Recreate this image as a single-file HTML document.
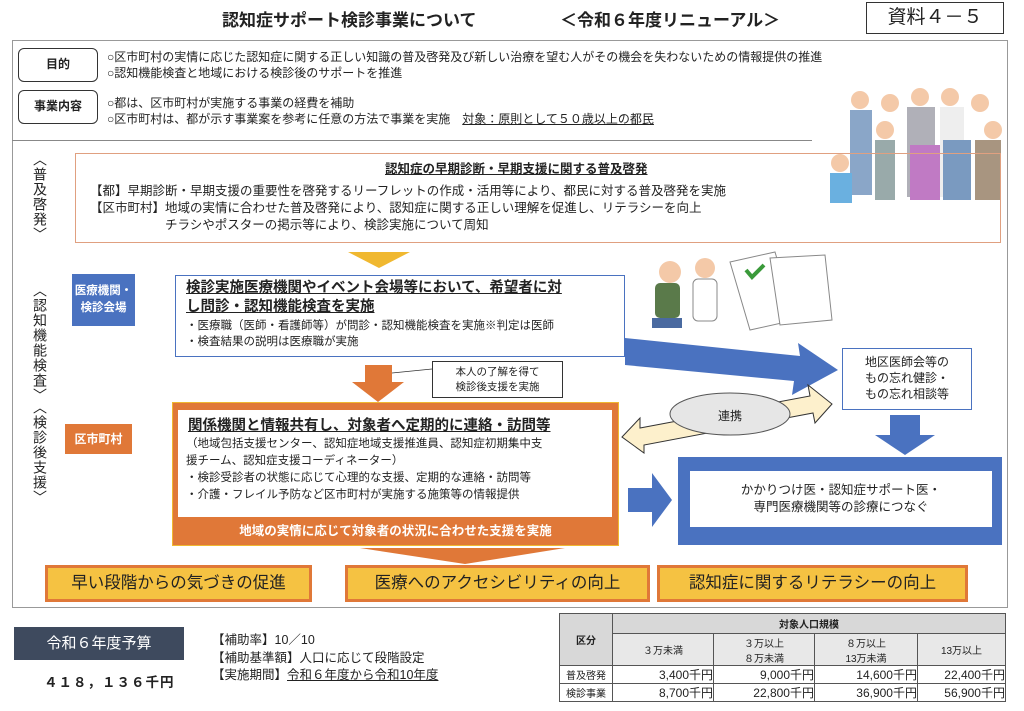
<!DOCTYPE html>
<html><head><meta charset="utf-8"><style>
*{margin:0;padding:0;box-sizing:border-box}
body{width:1024px;height:711px;background:#fff;position:relative;overflow:hidden;font-family:"Liberation Sans","Noto Sans CJK JP",sans-serif;color:#222}
.a{position:absolute}
.t{white-space:nowrap}
.vert{writing-mode:vertical-rl;font-size:14px;letter-spacing:1px}
table{border-collapse:collapse;font-size:10px}
td{border:1px solid #555;text-align:center;height:18px}
</style></head><body>
<div class="a t" style="left:222px;top:6px;font-size:17px;font-weight:bold">認知症サポート検診事業について</div>
<div class="a t" style="left:560px;top:6px;font-size:17px;font-weight:bold">＜令和６年度リニューアル＞</div>
<div class="a t" style="left:866px;top:2px;width:138px;height:32px;border:1.5px solid #333;font-size:19px;text-align:center;line-height:29px">資料４－５</div>

<div class="a" style="left:12px;top:40px;width:996px;height:568px;border:1px solid #999"></div>
<div class="a" style="left:12px;top:140px;width:800px;height:1px;background:#888"></div>

<div class="a t" style="left:18px;top:48px;width:80px;height:34px;border:1.5px solid #333;border-radius:6px;font-size:12px;font-weight:bold;text-align:center;line-height:31px">目的</div>
<div class="a t" style="left:18px;top:90px;width:80px;height:34px;border:1.5px solid #333;border-radius:6px;font-size:12px;font-weight:bold;text-align:center;line-height:31px">事業内容</div>
<div class="a t" style="left:107px;top:49px;font-size:12px;line-height:16px">○区市町村の実情に応じた認知症に関する正しい知識の普及啓発及び新しい治療を望む人がその機会を失わないための情報提供の推進<br>○認知機能検査と地域における検診後のサポートを推進</div>
<div class="a t" style="left:107px;top:95px;font-size:12px;line-height:16px">○都は、区市町村が実施する事業の経費を補助<br>○区市町村は、都が示す事業案を参考に任意の方法で事業を実施　<u>対象：原則として５０歳以上の都民</u></div>

<svg class="a" style="left:815px;top:85px" width="190" height="120">
<g fill="#f4c9a8"><circle cx="45" cy="15" r="9"/><circle cx="75" cy="18" r="9"/><circle cx="105" cy="12" r="9"/><circle cx="135" cy="12" r="9"/><circle cx="165" cy="18" r="9"/><circle cx="70" cy="45" r="9"/><circle cx="110" cy="50" r="9"/><circle cx="140" cy="45" r="9"/><circle cx="178" cy="45" r="9"/><circle cx="25" cy="78" r="9"/></g>
<rect x="35" y="25" width="22" height="85" fill="#8aa6c8"/><rect x="92" y="22" width="28" height="90" fill="#b0b0b8"/><rect x="125" y="22" width="24" height="90" fill="#eee"/>
<rect x="60" y="55" width="20" height="60" fill="#9aa"/><rect x="95" y="60" width="30" height="55" fill="#c07ac4"/><rect x="128" y="55" width="28" height="60" fill="#7a9ac0"/><rect x="160" y="55" width="26" height="60" fill="#a89580"/><rect x="15" y="88" width="22" height="30" fill="#6ab0e0"/>
</svg>

<div class="a vert" style="left:30px;top:152px">〈普及啓発〉</div>
<div class="a vert" style="left:30px;top:283px">〈認知機能検査〉</div>
<div class="a vert" style="left:30px;top:400px">〈検診後支援〉</div>

<div class="a" style="left:75px;top:153px;width:926px;height:90px;border:1px solid #e0a080"></div>
<div class="a t" style="left:385px;top:158px;font-size:12.5px;font-weight:bold;text-decoration:underline">認知症の早期診断・早期支援に関する普及啓発</div>
<div class="a t" style="left:90px;top:183px;font-size:12.5px;line-height:17px">【都】早期診断・早期支援の重要性を啓発するリーフレットの作成・活用等により、都民に対する普及啓発を実施<br>【区市町村】地域の実情に合わせた普及啓発により、認知症に関する正しい理解を促進し、リテラシーを向上<br>　　　　　　チラシやポスターの掲示等により、検診実施について周知</div>

<svg class="a" style="left:0;top:0" width="1024" height="711">
<polygon points="348,252 410,252 379,268" fill="#f0b830"/>
<polygon points="625,338 800,356 798,343 838,370 792,395 794,381 625,365" fill="#4a72c0"/>
<polygon points="365,365 392,365 392,382 404,382 378,402 352,382 365,382" fill="#e07838"/>
<line x1="392" y1="373" x2="432" y2="369" stroke="#333" stroke-width="0.8"/>
<polygon points="622,437 640,418 640,428 810,396 808,385 832,404 815,423 813,413 644,445 644,453" fill="#fdf0cc" stroke="#333" stroke-width="1"/>
<ellipse cx="730" cy="414" rx="60" ry="21" fill="#e6e6e6" stroke="#555"/>
<polygon points="890,415 920,415 920,435 935,435 905,455 875,435 890,435" fill="#4a72c0"/>
<polygon points="628,488 652,488 652,473 672,500 652,527 652,512 628,512" fill="#4a72c0"/>
<polygon points="360,548 565,548 465,564" fill="#e07838"/>
<circle cx="670" cy="272" r="11" fill="#f4c9a8"/><rect x="655" y="283" width="25" height="35" rx="5" fill="#5a7a4a"/><rect x="652" y="318" width="30" height="10" fill="#4a6aa0"/>
<circle cx="705" cy="268" r="10" fill="#f4c9a8"/><rect x="693" y="279" width="24" height="42" rx="5" fill="#fff" stroke="#888"/>
<polygon points="730,262 775,252 795,320 750,330" fill="#fff" stroke="#888"/>
<polygon points="770,258 825,255 832,320 780,325" fill="#fff" stroke="#888"/>
<path d="M746 270 l6 7 l12 -12" stroke="#3a9a3a" stroke-width="4" fill="none"/>
</svg>

<div class="a t" style="left:72px;top:274px;width:63px;height:52px;background:#4a72c0;color:#fff;font-size:11.5px;font-weight:bold;text-align:center;line-height:17px;padding-top:9px">医療機関・<br>検診会場</div>
<div class="a" style="left:175px;top:275px;width:450px;height:82px;border:1.5px solid #4a72c0;background:#fff"></div>
<div class="a t" style="left:186px;top:279px;font-size:14.5px;font-weight:bold;line-height:19px;text-decoration:underline">検診実施医療機関やイベント会場等において、希望者に対<br>し問診・認知機能検査を実施</div>
<div class="a t" style="left:186px;top:318px;font-size:11.5px;line-height:16px">・医療職（医師・看護師等）が問診・認知機能検査を実施※判定は医師<br>・検査結果の説明は医療職が実施</div>

<div class="a t" style="left:432px;top:361px;width:131px;height:37px;border:1px solid #333;font-size:10.5px;text-align:center;line-height:15px;padding-top:3px;background:#fff">本人の了解を得て<br>検診後支援を実施</div>

<div class="a t" style="left:842px;top:348px;width:130px;height:62px;border:1.5px solid #4a72c0;font-size:12px;text-align:center;line-height:16px;padding-top:5px;background:#fff">地区医師会等の<br>もの忘れ健診・<br>もの忘れ相談等</div>
<div class="a t" style="left:730px;top:407px;width:0;font-size:12px"><span style="position:absolute;left:-12px">連携</span></div>

<div class="a t" style="left:65px;top:424px;width:67px;height:30px;background:#e07838;color:#fff;font-size:12px;font-weight:bold;text-align:center;line-height:30px">区市町村</div>
<div class="a" style="left:172px;top:402px;width:447px;height:144px;background:#e07838;border:1px solid #f0b830"></div>
<div class="a" style="left:178px;top:410px;width:434px;height:107px;background:#fff"></div>
<div class="a t" style="left:188px;top:414px;font-size:14.5px;font-weight:bold;text-decoration:underline">関係機関と情報共有し、対象者へ定期的に連絡・訪問等</div>
<div class="a t" style="left:186px;top:436px;font-size:11.5px;line-height:17px">（地域包括支援センター、認知症地域支援推進員、認知症初期集中支<br>援チーム、認知症支援コーディネーター）<br>・検診受診者の状態に応じて心理的な支援、定期的な連絡・訪問等<br>・介護・フレイル予防など区市町村が実施する施策等の情報提供</div>
<div class="a t" style="left:172px;top:520px;width:447px;text-align:center;font-size:12.5px;font-weight:bold;color:#fff">地域の実情に応じて対象者の状況に合わせた支援を実施</div>

<div class="a" style="left:678px;top:457px;width:324px;height:88px;background:#4a72c0"></div>
<div class="a t" style="left:690px;top:471px;width:302px;height:56px;background:#fff;font-size:12.5px;text-align:center;line-height:17px;padding-top:11px">かかりつけ医・認知症サポート医・<br>専門医療機関等の診療につなぐ</div>

<div class="a t" style="left:45px;top:565px;width:267px;height:37px;background:#f5c242;border:3px solid #e07838;font-size:16.5px;text-align:center;line-height:31px">早い段階からの気づきの促進</div>
<div class="a t" style="left:345px;top:565px;width:305px;height:37px;background:#f5c242;border:3px solid #e07838;font-size:16.5px;text-align:center;line-height:31px">医療へのアクセシビリティの向上</div>
<div class="a t" style="left:657px;top:565px;width:311px;height:37px;background:#f5c242;border:3px solid #e07838;font-size:16.5px;text-align:center;line-height:31px">認知症に関するリテラシーの向上</div>

<div class="a t" style="left:14px;top:627px;width:170px;height:33px;background:#3e4a5e;color:#fff;font-size:15px;text-align:center;line-height:33px">令和６年度予算</div>
<div class="a t" style="left:44px;top:671px;font-size:13.5px;font-weight:bold;letter-spacing:1px">４１８，１３６千円</div>
<div class="a t" style="left:212px;top:632px;font-size:12.5px;line-height:17.5px">【補助率】10／10<br>【補助基準額】人口に応じて段階設定<br>【実施期間】<u>令和６年度から令和10年度</u></div>

<table class="a" style="left:559px;top:613px;width:447px">
<tr><td rowspan="2" style="width:53px;background:#d8d8d8;font-weight:bold">区分</td><td colspan="4" style="background:#d8d8d8;font-weight:bold;height:20px">対象人口規模</td></tr>
<tr style="height:32px;background:#e8e8e8"><td style="width:101px">３万未満</td><td style="width:101px">３万以上<br>８万未満</td><td style="width:103px">８万以上<br>13万未満</td><td>13万以上</td></tr>
<tr><td>普及啓発</td><td style="text-align:right;font-size:12px">3,400千円</td><td style="text-align:right;font-size:12px">9,000千円</td><td style="text-align:right;font-size:12px">14,600千円</td><td style="text-align:right;font-size:12px">22,400千円</td></tr>
<tr><td>検診事業</td><td style="text-align:right;font-size:12px">8,700千円</td><td style="text-align:right;font-size:12px">22,800千円</td><td style="text-align:right;font-size:12px">36,900千円</td><td style="text-align:right;font-size:12px">56,900千円</td></tr>
</table>
</body></html>
